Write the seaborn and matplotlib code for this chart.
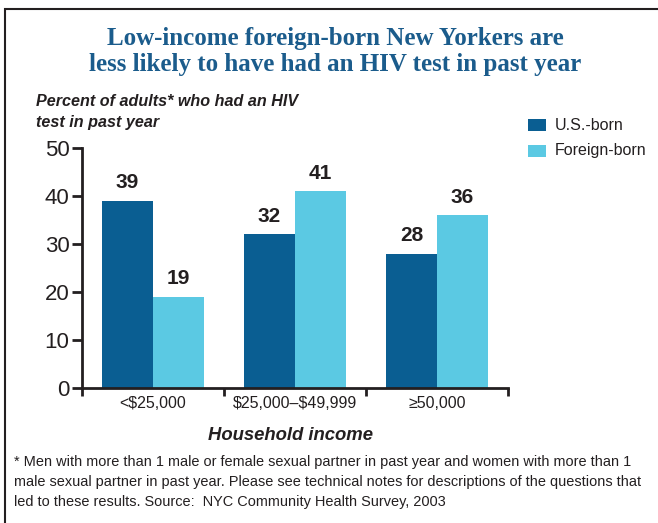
import matplotlib
matplotlib.use("Agg")
import matplotlib.pyplot as plt
import seaborn as sns
import pandas as pd
from matplotlib.patches import Rectangle

# data
incomes = ["<\\$25,000", "\\$25,000\u2013\\$49,999", "\u226550,000"]
groups = ["U.S.-born", "Foreign-born"]
us_born = [39, 32, 28]
foreign_born = [19, 41, 36]

df = pd.DataFrame({
    "income": incomes * 2,
    "group": [groups[0]] * 3 + [groups[1]] * 3,
    "pct": us_born + foreign_born,
})

sns.set_style("white")
plt.rcParams["font.family"] = ["Liberation Sans", "DejaVu Sans"]

dark = "#0a5e92"
light = "#5bc9e3"
ink = "#231f20"

fig = plt.figure(figsize=(6.58, 5.23), dpi=100)
ax = fig.add_axes([82 / 658, 1 - 388 / 523, (508 - 82) / 658, (388 - 148) / 523])

sns.barplot(data=df, x="income", y="pct", hue="group", order=incomes,
            hue_order=groups, palette=[dark, light], width=0.72,
            saturation=1, linewidth=0, ax=ax, legend=False)

for cont in ax.containers:
    ax.bar_label(cont, fmt="%d", padding=6, fontsize=15, fontweight="bold", color=ink)

ax.set_ylim(0, 50)
ax.set_xlim(-0.5, 2.5)
ax.set_yticks([0, 10, 20, 30, 40, 50])
ax.tick_params(axis="y", direction="out", length=7, width=2, color=ink,
               labelsize=16, labelcolor=ink, pad=2, left=True)

# ticks at category boundaries, labels at centers
ax.set_xticks([-0.5, 0.5, 1.5, 2.5])
ax.set_xticklabels([])
ax.set_xticks([0, 1, 2], minor=True)
ax.set_xticklabels(incomes, minor=True)
ax.tick_params(axis="x", which="major", direction="out", length=6, width=2,
               color=ink, bottom=True)
ax.tick_params(axis="x", which="minor", length=0, labelsize=11.5,
               labelcolor=ink, pad=6)

ax.set_xlabel("")
ax.set_ylabel("")
sns.despine(ax=ax)
for s in ["left", "bottom"]:
    ax.spines[s].set_linewidth(2)
    ax.spines[s].set_color(ink)

# title
fig.text(335 / 658, 1 - 38 / 523, "Low-income foreign-born New Yorkers are",
         ha="center", va="center", fontsize=18, fontweight="bold",
         color="#1b5c8c", family="Liberation Serif")
fig.text(335 / 658, 1 - 64 / 523, "less likely to have had an HIV test in past year",
         ha="center", va="center", fontsize=18, fontweight="bold",
         color="#1b5c8c", family="Liberation Serif")

# y axis title
fig.text(36 / 658, 1 - 101 / 523, "Percent of adults* who had an HIV",
         ha="left", va="center", fontsize=11.6, fontweight="bold",
         style="italic", color=ink)
fig.text(36 / 658, 1 - 122 / 523, "test in past year",
         ha="left", va="center", fontsize=11.6, fontweight="bold",
         style="italic", color=ink)

# x axis title
fig.text(291 / 658, 1 - 435 / 523, "Household income", ha="center", va="center",
         fontsize=13.3, fontweight="bold", style="italic", color=ink)

# legend
for i, (lab, col) in enumerate(zip(groups, [dark, light])):
    y = 125 + i * 26
    fig.patches.append(Rectangle((528 / 658, 1 - (y + 6) / 523), 18 / 658, 12 / 523,
                                 transform=fig.transFigure, facecolor=col,
                                 edgecolor="none"))
    fig.text(555 / 658, 1 - y / 523, lab, ha="left", va="center",
             fontsize=11.5, color=ink)

# footnote
notes = [
    "* Men with more than 1 male or female sexual partner in past year and women with more than 1",
    "male sexual partner in past year. Please see technical notes for descriptions of the questions that",
    "led to these results. Source:  NYC Community Health Survey, 2003",
]
for i, line in enumerate(notes):
    fig.text(14 / 658, 1 - (462 + i * 20) / 523, line, ha="left", va="center",
             fontsize=10.45, color=ink)

# frame around the figure (right/bottom run off the image)
fig.patches.append(Rectangle((5 / 658, -0.05), 1.1, 1 - 9 / 523 + 0.05,
                             transform=fig.transFigure, facecolor="none",
                             edgecolor=ink, linewidth=1.5))

fig.savefig("out.png", dpi=100)
